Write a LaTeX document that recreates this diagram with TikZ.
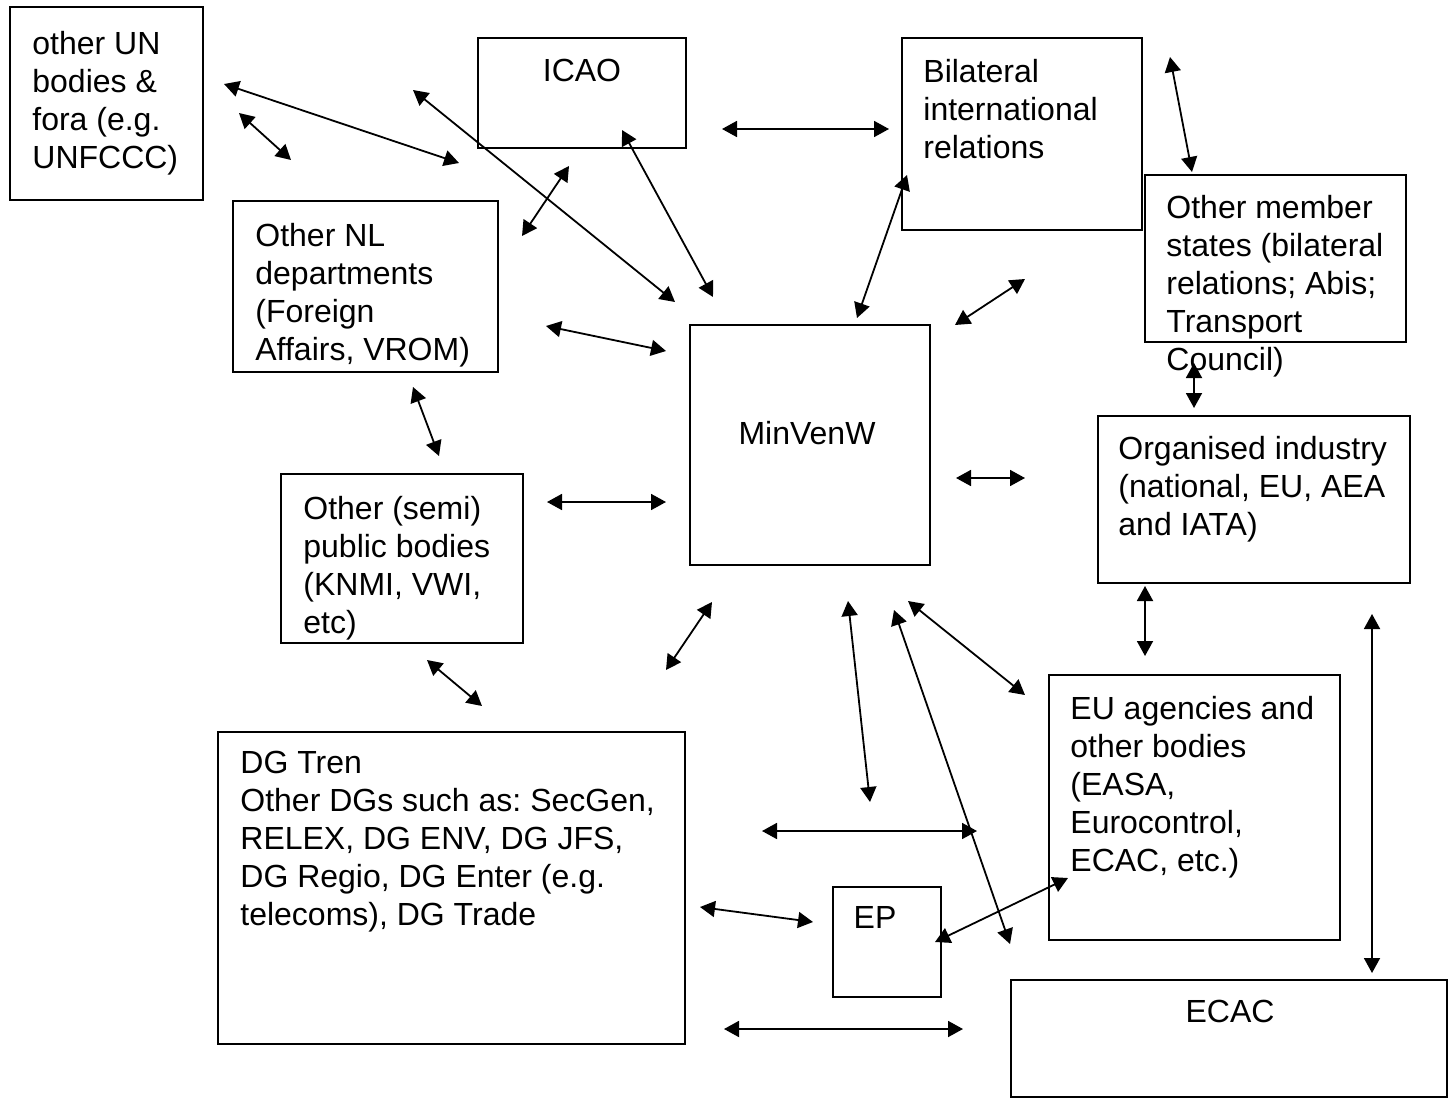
\documentclass[tikz,border=0pt]{standalone}
\usepackage{fontspec}
\setmainfont{Liberation Sans}
\usetikzlibrary{arrows.meta,fit}
\frenchspacing

% box from its two corners (pixel units)
\newcommand{\orgbox}[5]{\node[box, fit={(#2,#3) (#4,#5)}] (#1) {};}

\begin{document}
\begin{tikzpicture}[x=0.5pt, y=-0.5pt,
    box/.style={draw, line width=1pt, inner sep=0pt},
    txt/.style={anchor=north west, align=left, inner sep=0pt, font=\fontsize{16pt}{19pt}\selectfont},
    ctxt/.style={inner sep=0pt, font=\fontsize{16pt}{19pt}\selectfont},
    link/.style={{Triangle[length=7.5pt,width=8pt]}-{Triangle[length=7.5pt,width=8pt]}, line width=0.9pt}]
    \useasboundingbox (0,0) rectangle (1450,1102);

    % boxes
    \orgbox{un}{10}{7}{203}{200}
    \orgbox{icao}{478}{38}{686}{148}
    \orgbox{bil}{902}{38}{1142}{230}
    \orgbox{ms}{1145}{175}{1406}{342}
    \orgbox{nl}{233}{201}{498}{372}
    \orgbox{mv}{690}{325}{930}{565}
    \orgbox{ind}{1098}{416}{1410}{583}
    \orgbox{semi}{281}{474}{523}{643}
    \orgbox{dg}{218}{732}{685}{1044}
    \orgbox{eu}{1049}{675}{1340}{940}
    \orgbox{ep}{833}{887}{941}{997}
    \orgbox{ecac}{1011}{980}{1447}{1097}

    % texts
    \node[txt] (untxt) at (32,30.5) {other UN\\bodies \&\\fora (e.g.\\UNFCCC)};
    \node[ctxt] (icaotxt) at (582,70) {ICAO};
    \node[txt] (biltxt) at (923,58.5) {Bilateral\\international\\relations};
    \node[txt] (mstxt) at (1166,194.5) {Other member\\states (bilateral\\relations; Abis;\\Transport\\Council)};
    \node[txt] (nltxt) at (255,222.5) {Other NL\\departments\\(Foreign\\Affairs, VROM)};
    \node[ctxt] (mvtxt) at (807,433) {MinVenW};
    \node[txt] (indtxt) at (1118,435.5) {Organised industry\\(national, EU, AEA\\and IATA)};
    \node[txt] (semitxt) at (303,495.5) {Other (semi)\\public bodies\\(KNMI, VWI,\\etc)};
    \node[txt] (dgtxt) at (240,750.5) {DG Tren\\Other DGs such as: SecGen,\\RELEX, DG ENV, DG JFS,\\DG Regio, DG Enter (e.g.\\telecoms), DG Trade};
    \node[txt] (eutxt) at (1070,695.5) {EU agencies and\\other bodies\\(EASA,\\Eurocontrol,\\ECAC, etc.)};
    \node[ctxt] (eptxt) at (875,917) {EP};
    \node[ctxt] (ecactxt) at (1230,1011) {ECAC};

    % arrows
    \foreach \n/\xs/\ys/\xe/\ye in {
        unlong/224/84/459/163, unshort/239/113/291/160, unmin/413/90/675/302,
        nlicao/522/236/569/166, icaomin/622/130/713/297, icaobil/722/129/889/129,
        bilmin/907/175/857/318, bilms/1170/57/1192/172, minms/955/325/1025/279,
        nlmin/546/326/666/351, nlsemi/413/387/439/456, semimin/547/502/666/502,
        minind/956/478/1025/478, msind/1194/363/1194/408, semidg/427/660/482/706,
        dgmin/666/670/712/602, minep/848/601/870/802, minecac/894/610/1010/944,
        mineu/908/601/1025/695, indeu/1145/586/1145/656, indecac/1372/614/1372/973,
        dgeu/762/831/977/831, dgep/700/907/813/922, epeu/935/942/1068/878,
        dgecac/724/1029/963/1029}
    {
        \coordinate (\n-s) at (\xs,\ys);
        \coordinate (\n-e) at (\xe,\ye);
        \draw[link] (\n-s) -- (\n-e);
    }

\end{tikzpicture}
\end{document}
